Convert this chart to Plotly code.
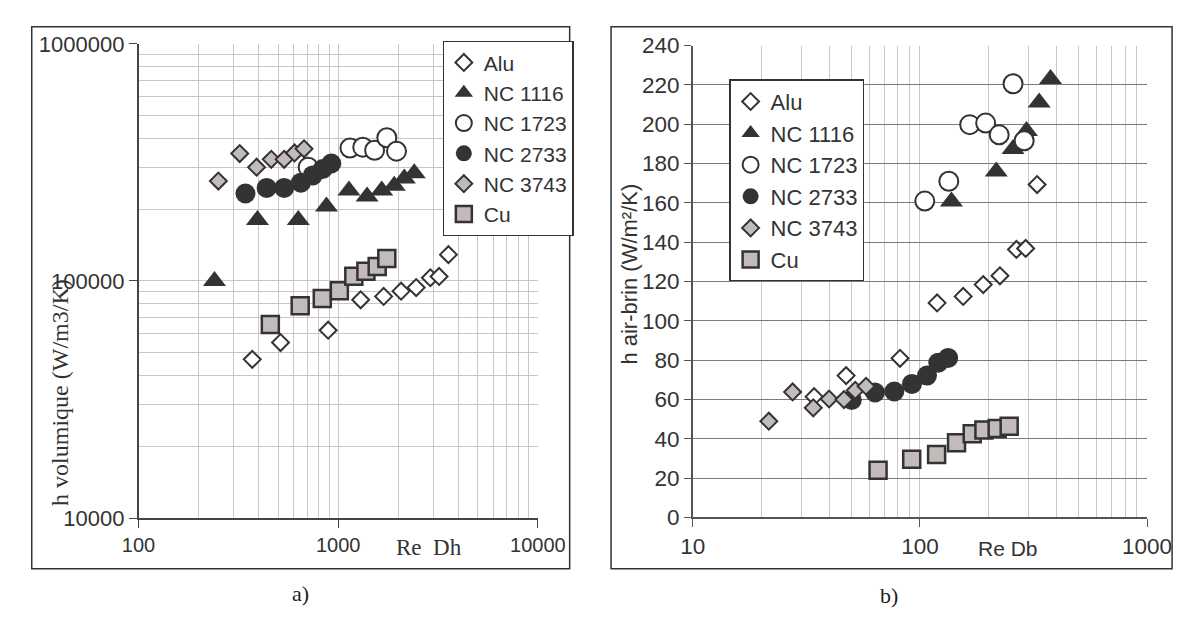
import plotly.graph_objects as go

# ---------------- data: chart a) ----------------
series_names = ["Alu", "NC 1116", "NC 1723", "NC 2733", "NC 3743", "Cu"]

alu_a_re = [371, 514, 890, 1295, 1688, 2064, 2456, 2893, 3199, 3564]
alu_a_h = [46700, 55000, 62000, 83300, 86100, 90600, 93800, 103200, 104500, 129200]

nc1116_a_re = [240, 394, 631, 873, 1132, 1395, 1651, 1908, 2143, 2403]
nc1116_a_h = [100000, 181000, 181000, 206000, 241000, 227000, 241000, 252000, 271000, 285000]

nc1723_a_re = [707, 1145, 1327, 1521, 1751, 1958]
nc1723_a_h = [302000, 364000, 367000, 356000, 402000, 353000]

nc2733_a_re = [343, 438, 536, 650, 745, 836, 923]
nc2733_a_h = [234000, 247000, 247000, 260000, 279000, 297000, 313000]

nc3743_a_re = [251, 321, 390, 462, 536, 604, 674]
nc3743_a_h = [264000, 345000, 302000, 326000, 326000, 347000, 361000]

cu_a_re = [457, 645, 832, 1013, 1197, 1376, 1567, 1751]
cu_a_h = [65500, 78600, 84300, 91000, 104800, 109900, 115000, 124500]

# ---------------- data: chart b) ----------------
alu_b_re = [34.2, 47.3, 81.7, 119, 155, 190, 225, 266, 292, 328]
alu_b_h = [61.4, 72.1, 80.9, 109.1, 112.4, 118.4, 122.9, 136.3, 136.8, 169.3]

nc1116_b_re = [137.6, 216.8, 257, 294.5, 335, 375.8]
nc1116_b_h = [160.7, 175.9, 187.4, 196.5, 211, 223]

nc1723_b_re = [105, 134, 165.6, 194.7, 223.3, 257, 287.7]
nc1723_b_h = [160.9, 171, 199.8, 200.6, 194.6, 220.6, 191.6]

nc2733_b_re = [50.1, 63.4, 77.1, 92.2, 107.4, 120.4, 133.1]
nc2733_b_h = [59.7, 63.5, 64, 67.9, 72.1, 78.7, 81.1]

nc3743_b_re = [21.6, 27.5, 33.9, 39.8, 46.3, 51.9, 57.9]
nc3743_b_h = [48.9, 63.8, 55.7, 60.2, 59.9, 64.6, 66.7]

cu_b_re = [65.4, 92, 118.4, 144.9, 169.9, 191.3, 218.8, 247.1]
cu_b_h = [23.9, 29.6, 32, 37.9, 42.5, 44.4, 45.2, 46.4]

# tick labels
a_xtick_vals = [100, 1000, 10000]
a_xtick_text = ["100", "1000", "10000"]
a_ytick_vals = [10000, 100000, 1000000]
a_ytick_text = ["10000", "100000", "1000000"]
b_xtick_vals = [10, 100, 1000]
b_xtick_text = ["10", "100", "1000"]

# ---------------- styles ----------------
W, H = 1194, 618
DARK = "#333336"
GRAYFILL = "#c3bbb9"
GRID_PINK = "#cdc5c5"
SANS = "Liberation Sans, Arial, sans-serif"
SERIF = "Liberation Serif, Times New Roman, serif"

styles = [
    dict(symbol="diamond", color="white", size=13, line=dict(color=DARK, width=2)),
    dict(symbol="triangle-up", color=DARK, size=20, line=dict(color=DARK, width=0)),
    dict(symbol="circle", color="white", size=19, line=dict(color=DARK, width=2)),
    dict(symbol="circle", color=DARK, size=20, line=dict(color=DARK, width=0)),
    dict(symbol="diamond", color=GRAYFILL, size=13, line=dict(color=DARK, width=2)),
    dict(symbol="square", color=GRAYFILL, size=17, line=dict(color=DARK, width=2.5)),
]

data_a = [(alu_a_re, alu_a_h), (nc1116_a_re, nc1116_a_h), (nc1723_a_re, nc1723_a_h),
          (nc2733_a_re, nc2733_a_h), (nc3743_a_re, nc3743_a_h), (cu_a_re, cu_a_h)]
data_b = [(alu_b_re, alu_b_h), (nc1116_b_re, nc1116_b_h), (nc1723_b_re, nc1723_b_h),
          (nc2733_b_re, nc2733_b_h), (nc3743_b_re, nc3743_b_h), (cu_b_re, cu_b_h)]

fig = go.Figure()
for i, (name, (x, y)) in enumerate(zip(series_names, data_a)):
    fig.add_trace(go.Scatter(x=x, y=y, mode="markers", name=name, marker=styles[i],
                             xaxis="x", yaxis="y", legend="legend"))
for i, (name, (x, y)) in enumerate(zip(series_names, data_b)):
    fig.add_trace(go.Scatter(x=x, y=y, mode="markers", name=name, marker=styles[i],
                             xaxis="x2", yaxis="y2", legend="legend2"))

def px(v):
    return v / W

def py(v):
    return 1 - v / H

fig.update_layout(
    width=W, height=H,
    margin=dict(l=0, r=0, t=0, b=0),
    paper_bgcolor="white", plot_bgcolor="white",
    xaxis=dict(domain=[px(118), px(533)], type="log", range=[2, 4],
               tickvals=a_xtick_vals, ticktext=a_xtick_text,
               tickfont=dict(family=SANS, size=20, color="#333"),
               showgrid=True, gridcolor=GRID_PINK, gridwidth=1,
               minor=dict(dtick="D1", showgrid=True, gridcolor=GRID_PINK, gridwidth=1, ticks=""),
               showline=True, linecolor="#444", linewidth=1.5,
               ticks="outside", ticklen=8, tickcolor="#444", anchor="y", zeroline=False),
    yaxis=dict(domain=[py(519), py(25)], type="log", range=[4, 6],
               tickvals=a_ytick_vals, ticktext=a_ytick_text,
               tickfont=dict(family=SANS, size=22, color="#333"),
               showgrid=True, gridcolor=GRID_PINK, gridwidth=1,
               minor=dict(dtick="D1", showgrid=True, gridcolor=GRID_PINK, gridwidth=1, ticks=""),
               showline=True, linecolor="#444", linewidth=1.5,
               ticks="outside", ticklen=8, tickcolor="#444", anchor="x", zeroline=False),
    xaxis2=dict(domain=[px(694), px(1166)], type="log", range=[1, 3],
                tickvals=b_xtick_vals, ticktext=b_xtick_text,
                tickfont=dict(family=SANS, size=22.5, color="#333"),
                showgrid=True, gridcolor=GRID_PINK, gridwidth=1,
                minor=dict(dtick="D1", showgrid=True, gridcolor=GRID_PINK, gridwidth=1, ticks=""),
                showline=True, linecolor="#555", linewidth=1.5,
                ticks="outside", ticklen=8, tickcolor="#555", anchor="y2", zeroline=False),
    yaxis2=dict(domain=[py(518.3), py(26.7)], range=[0, 240], dtick=20,
                tickfont=dict(family=SANS, size=22.5, color="#333"),
                showgrid=True, gridcolor="#7a7a7a", gridwidth=1,
                showline=True, linecolor="#555", linewidth=1.5,
                ticks="outside", ticklen=7, tickcolor="#555", anchor="x2", zeroline=False),
    legend=dict(x=px(434), y=py(22), xanchor="left", yanchor="top",
                bgcolor="white", bordercolor=DARK, borderwidth=1.2,
                font=dict(family=SANS, size=21, color="#333"),
                itemclick=False),
    legend2=dict(x=px(732), y=py(62), xanchor="left", yanchor="top",
                 bgcolor="white", bordercolor=DARK, borderwidth=1.2,
                 font=dict(family=SANS, size=22, color="#333"),
                 itemclick=False),
    showlegend=True,
)

# outer frames
fig.add_shape(type="rect", xref="paper", yref="paper", x0=px(7), x1=px(566), y0=py(572), y1=py(7),
              line=dict(color="#333", width=1.5), fillcolor="rgba(0,0,0,0)", layer="below")
fig.add_shape(type="rect", xref="paper", yref="paper", x0=px(609), x1=px(1192), y0=py(572), y1=py(7),
              line=dict(color="#333", width=1.5), fillcolor="rgba(0,0,0,0)", layer="below")

annots = [
    dict(text="h volumique (W/m3/K)", x=px(37), y=py(388), textangle=-90,
         font=dict(family=SERIF, size=24, color="#333")),
    dict(text="Re&nbsp;&nbsp;Dh", x=px(420), y=py(550),
         font=dict(family=SERIF, size=23, color="#333")),
    dict(text="h air-brin (W/m²/K)", x=px(628), y=py(265), textangle=-90,
         font=dict(family=SANS, size=22, color="#333")),
    dict(text="Re Db", x=px(1022), y=py(551),
         font=dict(family=SANS, size=21, color="#333")),
    dict(text="a)", x=px(286), y=py(598),
         font=dict(family=SERIF, size=22, color="#222")),
    dict(text="b)", x=px(898), y=py(600),
         font=dict(family=SERIF, size=22, color="#222")),
]
for a in annots:
    fig.add_annotation(xref="paper", yref="paper", showarrow=False,
                       xanchor="center", yanchor="middle", **a)

fig.write_html("out.html")
